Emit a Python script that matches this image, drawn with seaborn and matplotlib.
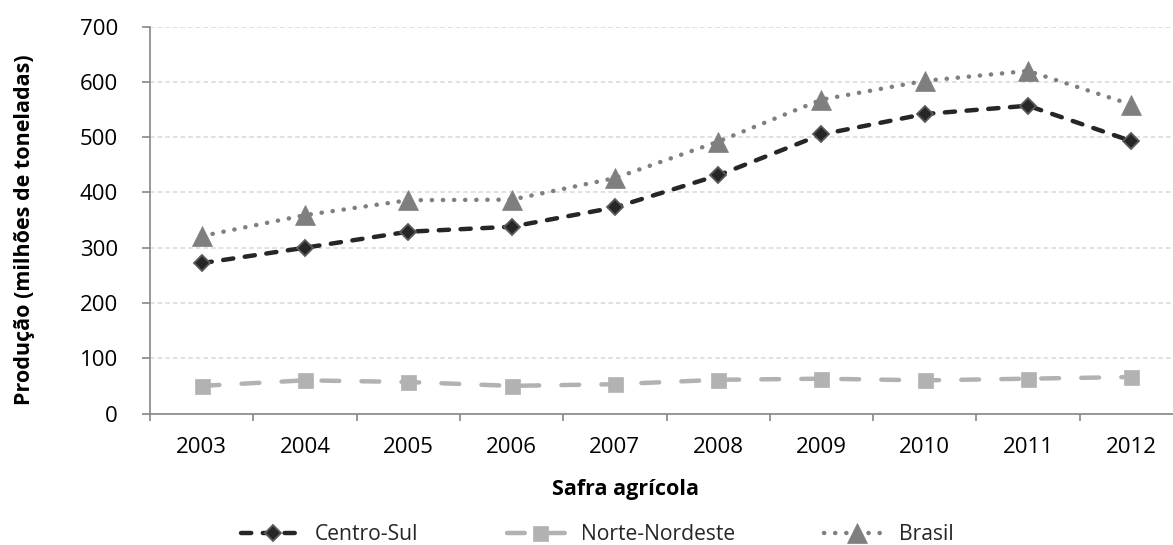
import numpy as np
import pandas as pd
import matplotlib
matplotlib.use("Agg")
import matplotlib.pyplot as plt
import seaborn as sns

# ---- data ----
years = ["2003", "2004", "2005", "2006", "2007", "2008", "2009", "2010", "2011", "2012"]
centro_sul = [272, 300, 329, 338, 373, 431, 505, 542, 557, 493]
norte_nordeste = [50, 60, 57, 50, 53, 61, 63, 60, 63, 66]
brasil = [321, 359, 386, 387, 426, 492, 568, 602, 620, 559]
series_names = ["Centro-Sul", "Norte-Nordeste", "Brasil"]
y_ticks = [0, 100, 200, 300, 400, 500, 600, 700]

df = pd.DataFrame({
    "Safra": years * 3,
    "Produção": centro_sul + norte_nordeste + brasil,
    "Série": [n for n in series_names for _ in years],
})

sns.set_theme(style="white")
plt.rcParams["font.family"] = ["Open Sans", "DejaVu Sans"]

W, H = 1173, 545
fig = plt.figure(figsize=(W / 100, H / 100), dpi=100)
ax_left, ax_right, ax_top, ax_bottom = 150, 1183, 26.7, 413.5
ax = fig.add_axes([ax_left / W, 1 - ax_bottom / H, (ax_right - ax_left) / W, (ax_bottom - ax_top) / H])

styles = {
    "Centro-Sul": dict(color="#262626", lw=3.2, linestyle=(0, (2.3, 2.6)),
                       marker="D", markersize=8.6, markerfacecolor="#262626",
                       markeredgecolor="#5a5a5a", markeredgewidth=1.3),
    "Norte-Nordeste": dict(color="#b2b2b2", lw=3.2, linestyle=(0, (4.0, 5.0)),
                           marker="s", markersize=10.8, markerfacecolor="#b2b2b2",
                           markeredgecolor="#b2b2b2", markeredgewidth=0.5),
    "Brasil": dict(color="#7f7f7f", lw=3.2, linestyle=(0, (0.05, 2.45)),
                   marker="^", markersize=14, markerfacecolor="#7f7f7f",
                   markeredgecolor="#7f7f7f", markeredgewidth=0.5),
}

for name in series_names:
    sub = df[df["Série"] == name]
    sns.lineplot(data=sub, x="Safra", y="Produção", ax=ax, label=name,
                 dash_capstyle="round", solid_capstyle="round", legend=False,
                 **styles[name])

ax.set_xlim(-0.5, len(years) - 0.5)
ax.set_ylim(0, 700)
ax.set_yticks(y_ticks)
ax.set_xticks(range(len(years)))
ax.set_xticklabels(years)
ax.set_xticks(np.arange(-0.5, len(years), 1.0), minor=True)

ax.yaxis.grid(True, color="#d9d9d9", linestyle=(0, (3, 2)), lw=1.1)
ax.xaxis.grid(False)
ax.set_axisbelow(True)

sns.despine(ax=ax)
for side in ["left", "bottom"]:
    ax.spines[side].set_color("#868686")
    ax.spines[side].set_linewidth(1.2)

ax.tick_params(axis="y", which="major", left=True, length=6, width=1.2,
               color="#868686", pad=17, labelsize=16, labelcolor="black")
ax.tick_params(axis="x", which="major", bottom=True, length=0, pad=17,
               labelsize=16, labelcolor="black")
ax.tick_params(axis="x", which="minor", bottom=True, length=4.8, width=1.2,
               color="#868686")

ax.set_ylabel("Produção (milhões de toneladas)", fontsize=15.5, fontweight="bold", color="black")
ax.yaxis.set_label_coords(-0.111, (ax_bottom - 230) / (ax_bottom - ax_top))
ax.set_xlabel("Safra agrícola", fontsize=15.5, fontweight="bold", color="black")
ax.xaxis.set_label_coords((625.5 - ax_left) / (ax_right - ax_left), (ax_bottom - 479) / (ax_bottom - ax_top))

ax.legend(loc="center", bbox_to_anchor=(597 / W, 1 - 535 / H), bbox_transform=fig.transFigure,
          ncol=3, frameon=False, fontsize=15.2, handlelength=3.07, handletextpad=0.45,
          columnspacing=4.2, numpoints=1)

fig.savefig("out.png", dpi=100)
